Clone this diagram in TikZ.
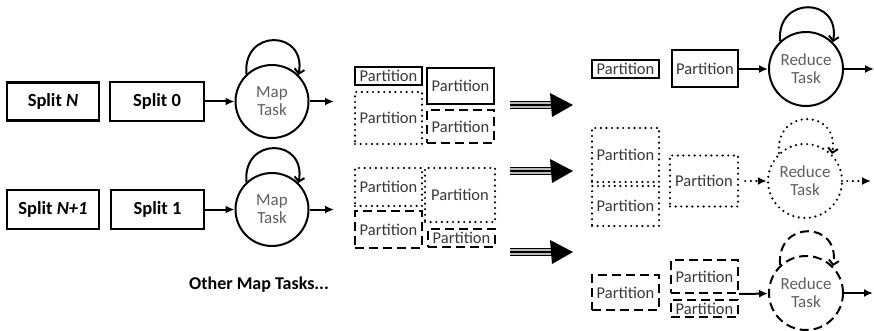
\documentclass[tikz,border=0pt]{standalone}
\usepackage{fontspec}
\setmainfont{Carlito}
\usetikzlibrary{arrows.meta}
\definecolor{partgray}{HTML}{383838}
\definecolor{taskgray}{HTML}{606060}
\begin{document}
\begin{tikzpicture}[x=1pt,y=-1pt,
  wh/.style 2 args={minimum width=#1pt,minimum height=#2pt},
  dotline/.style={dash pattern=on 0pt off 5.6pt, line cap=round, line width=2.4pt},
  dashline/.style={dash pattern=on 9pt off 5pt, line width=2pt},
  splitbox/.style={draw, line width=2.2pt, inner sep=0pt, font=\fontsize{18.5}{20}\selectfont\bfseries},
  pbox/.style={draw, line width=2pt, inner sep=0pt, text=partgray, font=\fontsize{16.5}{17}\selectfont},
  dotbox/.style={pbox, dotline},
  dashbox/.style={pbox, dashline},
  task/.style={circle, draw, line width=2pt, minimum size=74pt, inner sep=0pt, align=center,
    text=taskgray, font=\fontsize{17}{18}\selectfont},
  flow/.style={-{Latex[length=9pt,width=8pt]}, line width=2pt},
  loopar/.style={-{Straight Barb[length=4.5pt,width=10pt,line width=2pt]}, line width=2pt},
  bigshaft/.style={line width=1.5pt, double=gray!55, double distance=5.5pt},
]
\useasboundingbox (0,0) rectangle (874,331);

% ---- map side ----
\node[splitbox, wh={92}{38}] (sN) at (53,101.5) {Split \textit{N}};
\node[splitbox, wh={94}{39}] (s0) at (157,101.5) {Split 0};
\node[task, minimum size=73pt] (m1) at (272,101.5) {Map\\Task};
\coordinate (m1o) at (334,101.5);
\draw[flow] (s0) -- (m1);
\draw[flow] (m1) -- (m1o);
\draw[loopar] (m1.133) .. controls +(-95:46) and +(-80:46) .. (m1.45);

\node[splitbox, wh={92}{39}] (sN1) at (53,209.5) {Split \textit{N+1}};
\node[splitbox, wh={93}{39}] (s1) at (157.5,209.5) {Split 1};
\node[task, minimum size=73pt] (m2) at (272,209.5) {Map\\Task};
\coordinate (m2o) at (334,209.5);
\draw[flow] (s1) -- (m2);
\draw[flow] (m2) -- (m2o);
\draw[loopar] (m2.133) .. controls +(-95:46) and +(-80:46) .. (m2.45);

\node[font=\fontsize{18}{20}\selectfont\bfseries] (other) at (259,285) {Other Map Tasks...};

% ---- partitions after map 1 ----
\node[pbox, wh={67}{18}] (p1a) at (388.5,76) {Partition};
\node[pbox, wh={67}{36}] (p1b) at (460.5,86) {Partition};
\node[dotbox, wh={67}{52}] (p1c) at (388.5,118) {Partition};
\node[dashbox, wh={67}{33}] (p1d) at (460.5,126.5) {\raisebox{-3pt}{Partition}};

% ---- partitions after map 2 ----
\node[dotbox, wh={67}{38}] (p2a) at (388.5,187) {Partition};
\node[dashbox, wh={67}{37}] (p2b) at (388.5,229.5) {Partition};
\node[dotbox, wh={70}{54}] (p2c) at (460,195) {Partition};
\node[dashbox, wh={67}{18}] (p2d) at (461.5,238) {Partition};

% ---- shuffle arrows ----
\foreach \i/\yy in {1/105,2/171,3/252}{
  \coordinate (bs\i) at (510,\yy);
  \coordinate (bm\i) at (552,\yy);
  \coordinate (be\i) at (573,\yy);
  \draw[bigshaft] (bs\i) -- (bm\i);
  \draw[line width=1.5pt] (bs\i) -- (bm\i);
  \fill (bm\i) ++(-2,-12) -- (be\i) -- ++(-21,12) -- cycle;
}

% ---- reduce 1 (solid) ----
\node[pbox, wh={67}{18}] (r1a) at (625.5,69) {Partition};
\node[pbox, wh={66}{37}] (r1b) at (705,69) {Partition};
\node[task] (red1) at (806,69) {Reduce\\Task};
\coordinate (red1o) at (874,69);
\draw[flow] (r1b) -- (red1);
\draw[flow] (red1) -- (red1o);
\draw[loopar] (red1.133) .. controls +(-95:46) and +(-80:46) .. (red1.45);

% ---- reduce 2 (dotted) ----
\node[dotbox, wh={67}{54}] (r2a) at (625.5,155) {Partition};
\node[dotbox, wh={67}{40}] (r2b) at (625.5,206) {Partition};
\node[dotbox, wh={68}{51}] (r2c) at (704,181) {Partition};
\node[task, dotline] (red2) at (805,181) {Reduce\\Task};
\coordinate (red2o) at (871,181);
\draw[flow, dotline, shorten <=6pt] (r2c) -- (red2);
\draw[flow, dotline, shorten <=4pt] (red2) -- (red2o);
\draw[loopar, dotline] (red2.133) .. controls +(-95:46) and +(-80:46) .. (red2.45);

% ---- reduce 3 (dashed) ----
\node[dashbox, wh={67}{35}] (r3a) at (625.5,292.5) {Partition};
\node[dashbox, wh={67}{33}] (r3b) at (704.5,276.5) {Partition};
\node[dashbox, wh={67}{17}] (r3c) at (704.5,308.5) {Partition};
\node[task, dashline] (red3) at (806,293) {Reduce\\Task};
\coordinate (red3o) at (873,293);
\draw[flow] (r3b.south east) -- (red3);
\draw[flow] (red3) -- (red3o);
\draw[loopar, dashline] (red3.133) .. controls +(-95:46) and +(-80:46) .. (red3.45);
\end{tikzpicture}
\end{document}
